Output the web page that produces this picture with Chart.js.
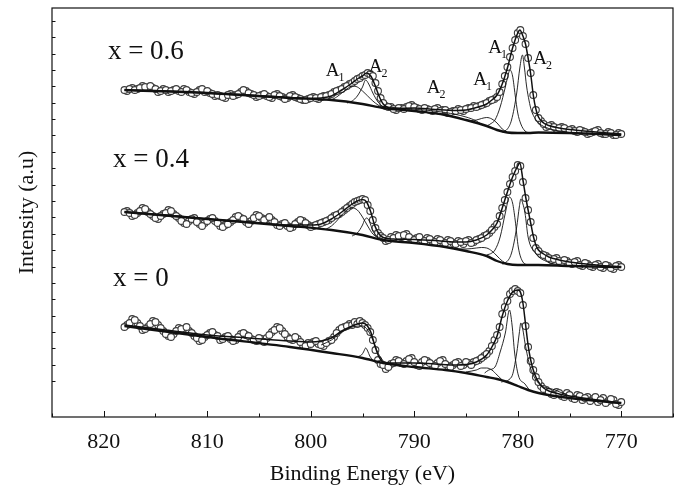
<!DOCTYPE html>
<html>
<head>
<meta charset="utf-8">
<script src="https://cdn.jsdelivr.net/npm/chart.js@4.4.1/dist/chart.umd.min.js"></script>
<style>
  body { margin: 0; background: #fff; }
  canvas { display: block; }
</style>
</head>
<body>
<canvas id="xps" width="680" height="485"></canvas>
<script>
// binding energies of the measured points (eV), shared by the three spectra
const energies = [818, 817.5, 817, 816.5, 816, 815.5, 815, 814.5, 814, 813.5, 813, 812.5, 812, 811.5, 811, 810.5, 810, 809.5, 809, 808.5, 808, 807.5, 807, 806.5, 806, 805.5, 805, 804.5, 804, 803.5, 803, 802.5, 802, 801.5, 801, 800.5, 800, 799.5, 799, 798.5, 798, 797.5, 797, 796.5, 796,
  795.75, 795.5, 795.25, 795, 794.75, 794.5, 794.25, 794, 793.75, 793.5, 793.25,
  793, 792.5, 792, 791.5, 791, 790.5, 790, 789.5, 789, 788.5, 788, 787.5, 787, 786.5, 786, 785.5, 785, 784.5, 784, 783.5, 783, 782.5, 782,
  781.75, 781.5, 781.25, 781, 780.75, 780.5, 780.25, 780, 779.75, 779.5, 779.25, 779, 778.75, 778.5, 778.25,
  778, 777.5, 777, 776.5, 776, 775.5, 775, 774.5, 774, 773.5, 773, 772.5, 772, 771.5, 771, 770.5, 770];
// second set of scan points, in between the first ones
const energies2 = [817.75, 817.25, 816.75, 816.25, 815.75, 815.25, 814.75, 814.25, 813.75, 813.25, 812.75, 812.25, 811.75, 811.25, 810.75, 810.25, 809.75, 809.25, 808.75, 808.25, 807.75, 807.25, 806.75, 806.25, 805.75, 805.25, 804.75, 804.25, 803.75, 803.25, 802.75, 802.25, 801.75, 801.25, 800.75, 800.25, 799.75, 799.25, 798.75, 798.25, 797.75, 797.25, 796.75, 796.25,
  792.75, 792.25, 791.75, 791.25, 790.75, 790.25, 789.75, 789.25, 788.75, 788.25, 787.75, 787.25, 786.75, 786.25, 785.75, 785.25, 784.75, 784.25, 783.75, 783.25, 782.75, 782.25,
  777.75, 777.25, 776.75, 776.25, 775.75, 775.25, 774.75, 774.25, 773.75, 773.25, 772.75, 772.25, 771.75, 771.25, 770.75, 770.25];

// measured intensities (a.u., spectra stacked)
const dataX06 = [327, 328, 327, 329, 330, 331, 328, 326, 327, 326, 328, 325, 327, 324, 325, 328, 326, 323, 322, 320, 322, 321, 323, 327, 324, 322, 321, 323, 320, 322, 321, 318, 321, 320, 318, 317, 319, 319, 320, 321, 323, 326, 328, 331, 334,
  336, 338, 339, 341, 342, 344, 343, 341, 334, 326, 319,
  314, 310, 308, 309, 308, 311, 310, 308, 309, 307, 308, 306, 307, 305, 306, 307, 308, 309, 310, 312, 314, 317, 320,
  325, 333, 341, 350, 360, 369, 377, 384, 387, 381, 373, 359, 344, 322, 307,
  299, 293, 291, 290, 289, 289, 287, 286, 287, 285, 284, 286, 284, 283, 284, 282, 283];
const data2X06 = [326, 329, 328, 331, 329, 329, 325, 328, 325, 327, 326, 328, 325, 323, 327, 325, 324, 321, 321, 319, 323, 322, 325, 326, 323, 320, 322, 321, 319, 323, 320, 319, 322, 319, 317, 318, 320, 318, 321, 322, 325, 327, 330, 333,
  311, 310, 307, 309, 310, 312, 309, 307, 308, 306, 309, 307, 304, 306, 308, 306, 309, 311, 311, 313, 316, 318,
  296, 290, 292, 288, 290, 287, 288, 285, 286, 283, 285, 287, 283, 285, 282, 284];
const dataX04 = [205, 204, 202, 206, 208, 203, 199, 201, 204, 206, 201, 196, 193, 198, 195, 191, 196, 199, 194, 190, 193, 197, 201, 198, 193, 199, 201, 197, 200, 195, 191, 194, 189, 193, 197, 194, 190, 192, 194, 196, 199, 202, 205, 209, 213,
  215, 216, 217, 218, 217, 212, 206, 197, 189, 184, 181,
  179, 177, 179, 181, 182, 180, 177, 180, 176, 178, 175, 177, 174, 176, 173, 175, 176, 174, 177, 179, 182, 187, 193,
  201, 209, 217, 225, 233, 240, 246, 252, 251, 235, 219, 207, 195, 179, 169,
  166, 162, 159, 158, 156, 157, 154, 155, 152, 154, 151, 152, 150, 152, 149, 151, 150];
const data2X04 = [206, 201, 204, 209, 205, 201, 198, 203, 207, 203, 199, 194, 196, 199, 193, 194, 198, 196, 191, 192, 195, 200, 199, 195, 196, 202, 199, 198, 197, 192, 193, 191, 190, 195, 196, 192, 191, 193, 195, 197, 201, 203, 207, 211,
  176, 180, 182, 180, 183, 178, 179, 177, 179, 176, 178, 175, 177, 174, 176, 173, 177, 175, 178, 181, 184, 190,
  163, 161, 157, 159, 155, 156, 153, 156, 151, 153, 150, 153, 149, 151, 148, 152];
const dataX0 = [90, 94, 97, 91, 88, 93, 95, 89, 83, 80, 86, 88, 90, 84, 79, 77, 82, 85, 81, 78, 81, 76, 80, 84, 81, 77, 79, 75, 82, 87, 89, 83, 78, 80, 75, 71, 73, 76, 72, 74, 77, 84, 89, 91, 92,
  95, 93, 96, 94, 92, 89, 85, 77, 67, 57, 53,
  52, 50, 54, 56, 53, 58, 55, 51, 57, 54, 51, 56, 53, 50, 54, 51, 55, 52, 56, 59, 63, 71, 82,
  90, 103, 110, 116, 123, 126, 128, 126, 124, 112, 91, 70, 56, 47, 40,
  35, 28, 25, 22, 24, 20, 22, 18, 21, 19, 16, 20, 17, 14, 18, 13, 15];
const data2X0 = [92, 98, 94, 87, 90, 96, 92, 86, 81, 83, 89, 87, 86, 81, 76, 80, 84, 82, 77, 80, 78, 77, 83, 82, 78, 76, 78, 79, 85, 90, 86, 80, 77, 78, 72, 74, 75, 73, 71, 76, 80, 87, 90, 93,
  48, 53, 57, 54, 56, 59, 52, 55, 56, 52, 54, 57, 51, 52, 55, 52, 54, 55, 57, 61, 66, 77,
  31, 27, 23, 25, 21, 24, 19, 22, 17, 20, 18, 15, 19, 16, 17, 12];

// fitted envelopes
const envE = [818, 814, 810, 806, 802, 800, 799, 798, 797, 796, 795.5, 795, 794.6, 794.2, 793.8, 793.4, 793, 792, 790, 788, 786, 785, 784, 783, 782.5, 782, 781.5, 781, 780.5, 780, 779.8, 779.5, 779.25, 779, 778.75, 778.5, 778.25, 778, 777.5, 777, 776, 775, 773, 770];
const envX06 = [327, 326, 324, 322, 319.5, 318.5, 319, 321, 327, 334, 338, 341, 344, 341, 332, 321, 313, 308.5, 309, 307.5, 306.5, 307, 309.5, 313, 317, 322, 333, 349, 369, 384, 387, 381, 373, 359, 343, 322, 308, 300, 294, 291.5, 289, 287.5, 285.5, 283];
const envX04 = [205, 202, 198, 195, 192, 192, 193, 198, 205, 213, 216, 217.5, 215, 205, 191, 183, 179.5, 178, 177.5, 176.5, 175, 175, 177, 182, 187, 194, 209, 225, 240, 251, 254, 237, 221, 207, 194, 181, 172, 167, 163, 160, 157, 155, 152.5, 150];
const envX0 = [92, 87, 82, 79, 76, 75, 76, 79, 86, 91, 93, 94, 92, 85, 71, 60, 55, 54, 54, 53, 52, 52.5, 55, 62, 70, 81, 101, 116, 125, 127, 126, 114, 93, 72, 57, 47, 40, 35, 29, 26, 23, 21, 18, 14];

// Shirley backgrounds
const baseE = [818, 810, 802, 798, 795, 793, 790, 787, 785, 783, 782, 781, 780, 779, 778, 775, 770];
const baseX06 = [327, 324, 319, 317, 313, 309, 306, 302, 297, 291, 287, 284.5, 284, 284, 284.5, 284, 282];
const baseX04 = [205, 198, 191, 187, 182, 177, 174, 170, 166, 161, 156, 153, 152, 152, 152, 151, 150];
const baseX0 = [91, 80, 70, 64, 59, 54, 50, 47, 44, 40, 38, 35, 31, 27, 24, 19, 14];

// fitted components, x = 0.6
const x06A1hE = [799, 798, 797.5, 797, 796.5, 796, 795.5, 795, 794.5, 794, 793.5, 793];
const x06A1hV = [317, 317.5, 320, 324, 328, 331, 330, 326, 321, 316, 312, 309];
const x06A2hE = [796.5, 796, 795.5, 795, 794.7, 794.4, 794, 793.5, 793];
const x06A2hV = [314, 316, 321, 330, 337, 333, 324, 315, 310];
const x06S2E = [793, 791, 789, 787, 785, 784, 783.5];
const x06S2V = [310.5, 308.5, 307, 304.5, 300, 296, 292.5];
const x06S1E = [785.5, 785, 784.5, 784, 783.5, 783, 782.5, 782, 781.5, 781];
const x06S1V = [298, 297, 296.5, 297, 298.5, 299.5, 298, 294, 288, 284.5];
const x06A1E = [783, 782.5, 782.2, 781.7, 781.2, 781, 780.75, 780.5, 780.25, 780, 779.7, 779.3, 778.8];
const x06A1V = [291, 294, 297, 310, 330, 339, 347, 341, 322, 304, 293, 286, 284];
const x06A2E = [781.5, 781, 780.6, 780.1, 779.8, 779.55, 779.35, 779.15, 778.9, 778.7, 778.3, 778, 777, 776, 775];
const x06A2V = [285, 288, 297, 324, 349, 362, 349, 331, 316, 307, 298, 294, 288.5, 286, 284.5];

// fitted components, x = 0.4
const x04A1hE = [798.5, 798, 797.5, 797, 796.5, 796, 795.5, 795, 794.5, 794, 793.5];
const x04A1hV = [188, 191, 196, 202, 207, 209, 207, 200, 191, 183, 179];
const x04A2hE = [796, 795.5, 795, 794.8, 794.6, 794.4, 794.2, 794, 793.5, 793];
const x04A2hV = [181, 184, 192, 197, 199, 197, 192, 186, 180, 178];
const x04S1E = [786, 785, 784, 783.5, 783, 782.5, 782, 781.5, 781];
const x04S1V = [168, 168, 169, 169.5, 169, 166, 161, 156, 153];
const x04A1E = [783, 782.5, 782.2, 781.7, 781.2, 780.8, 780.5, 780.25, 779.95, 779.5, 779];
const x04A1V = [162, 164, 167, 180, 204, 220, 214, 197, 170, 155, 152];
const x04A2E = [781.5, 781.2, 780.6, 780.1, 779.85, 779.7, 779.5, 779.3, 779, 778.3, 777.1, 776];
const x04A2V = [153, 154, 164, 190, 210, 218, 213, 204, 180, 164, 155, 152];

// fitted components, x = 0
const x0A1hE = [799, 798, 797, 796, 795, 794.5, 794, 793.5, 793];
const x0A1hV = [72, 77, 85, 90, 91, 87, 77, 64, 56];
const x0A2hE = [795.6, 795.1, 794.9, 794.7, 794.5, 794.3, 794];
const x0A2hV = [60, 62, 65, 69, 66, 61, 57];
const x0S1E = [785, 784, 783.5, 783, 782.5, 782, 781.5];
const x0S1V = [45, 47, 49, 49, 47, 42, 37];
const x0A1E = [783.2, 782.8, 782.2, 781.7, 781.2, 780.8, 780.55, 780.3, 779.95, 779.3, 778.8];
const x0A1V = [44, 47, 50, 65, 84, 107, 92, 64, 42, 33, 26];
const x0A2E = [781.6, 780.6, 780.1, 779.85, 779.7, 779.5, 779.3, 778.8, 778, 776.4, 775];
const x0A2V = [35, 40, 64, 84, 94, 87, 74, 50, 34, 27, 21];

// axis ticks
const xTicks = [820, 810, 800, 790, 780, 770];
const xMinorTicks = [825, 815, 805, 795, 785, 775, 765];
const yTicks = [36, 52, 69, 85, 101, 118, 134, 150, 167, 183, 200, 216, 232, 249, 265, 282, 298, 314, 331, 347, 363, 380, 396];

const serif = "'Liberation Serif', 'DejaVu Serif', serif";

// text labels placed in data coordinates
const sampleLabels = [
  { text: "x = 0.6", x: 819.6, y: 358 },
  { text: "x = 0.4", x: 819.1, y: 250 },
  { text: "x = 0", x: 819.1, y: 131 }
];
const peakLabels = [
  { text: "A", sub: "1", x: 798.55, y: 341 },
  { text: "A", sub: "2", x: 794.4, y: 345.5 },
  { text: "A", sub: "2", x: 788.8, y: 324 },
  { text: "A", sub: "1", x: 784.3, y: 332 },
  { text: "A", sub: "1", x: 782.85, y: 364 },
  { text: "A", sub: "2", x: 778.5, y: 353 }
];

function pts(xs, ys) {
  return xs.map((x, i) => ({ x: x, y: ys[i] }));
}

function circles(xs, ys) {
  return {
    data: pts(xs, ys),
    showLine: false,
    pointRadius: 3.4,
    pointBorderWidth: 1.1,
    pointBorderColor: "#3c3c3c",
    pointBackgroundColor: "#ffffff",
    order: 10
  };
}

function curve(xs, ys, width, order) {
  return {
    data: pts(xs, ys),
    showLine: true,
    borderColor: "#111",
    borderWidth: width,
    pointRadius: 0,
    tension: 0.4,
    cubicInterpolationMode: "monotone",
    order: order
  };
}

const datasets = [
  circles(energies, dataX06), circles(energies2, data2X06),
  circles(energies, dataX04), circles(energies2, data2X04),
  circles(energies, dataX0), circles(energies2, data2X0),
  curve(baseE, baseX06, 2.4, 2), curve(baseE, baseX04, 2.4, 2), curve(baseE, baseX0, 2.4, 2),
  curve(x06A1hE, x06A1hV, 0.9, 3), curve(x06A2hE, x06A2hV, 0.9, 3), curve(x06S2E, x06S2V, 0.9, 3),
  curve(x06S1E, x06S1V, 0.9, 3), curve(x06A1E, x06A1V, 0.9, 3), curve(x06A2E, x06A2V, 0.9, 3),
  curve(x04A1hE, x04A1hV, 0.9, 3), curve(x04A2hE, x04A2hV, 0.9, 3), curve(x04S1E, x04S1V, 0.9, 3),
  curve(x04A1E, x04A1V, 0.9, 3), curve(x04A2E, x04A2V, 0.9, 3),
  curve(x0A1hE, x0A1hV, 0.9, 3), curve(x0A2hE, x0A2hV, 0.9, 3), curve(x0S1E, x0S1V, 0.9, 3),
  curve(x0A1E, x0A1V, 0.9, 3), curve(x0A2E, x0A2V, 0.9, 3),
  curve(envE, envX06, 1.5, 1), curve(envE, envX04, 1.5, 1), curve(envE, envX0, 1.5, 1)
];

// frame, inward tick marks and text labels
const decorations = {
  id: "decorations",
  afterDraw(chart) {
    const { ctx, chartArea: a, scales } = chart;
    const sx = scales.x, sy = scales.y;
    ctx.save();
    ctx.strokeStyle = "#111";
    ctx.lineWidth = 1.2;
    ctx.strokeRect(a.left, a.top, a.right - a.left, a.bottom - a.top);
    ctx.lineWidth = 1;
    ctx.beginPath();
    xTicks.forEach(v => {
      const px = Math.round(sx.getPixelForValue(v)) + 0.5;
      ctx.moveTo(px, a.bottom); ctx.lineTo(px, a.bottom - 6);
    });
    xMinorTicks.forEach(v => {
      const px = Math.round(sx.getPixelForValue(v)) + 0.5;
      ctx.moveTo(px, a.bottom); ctx.lineTo(px, a.bottom - 3.5);
    });
    yTicks.forEach(v => {
      const py = Math.round(sy.getPixelForValue(v)) + 0.5;
      ctx.moveTo(a.left, py); ctx.lineTo(a.left + 3.5, py);
    });
    ctx.stroke();

    ctx.fillStyle = "#111";
    ctx.textBaseline = "alphabetic";
    ctx.textAlign = "left";
    ctx.font = "27px " + serif;
    sampleLabels.forEach(l => {
      ctx.fillText(l.text, sx.getPixelForValue(l.x), sy.getPixelForValue(l.y));
    });
    peakLabels.forEach(l => {
      const px = sx.getPixelForValue(l.x), py = sy.getPixelForValue(l.y);
      ctx.font = "19px " + serif;
      ctx.fillText(l.text, px, py);
      const w = ctx.measureText(l.text).width;
      ctx.font = "12px " + serif;
      ctx.fillText(l.sub, px + w - 1, py + 5);
    });
    ctx.restore();
  }
};

new Chart(document.getElementById("xps"), {
  type: "scatter",
  data: { datasets: datasets },
  options: {
    responsive: false,
    animation: false,
    layout: { padding: { left: 0, right: 7, top: 8, bottom: 0 } },
    plugins: { legend: { display: false }, tooltip: { enabled: false } },
    scales: {
      x: {
        type: "linear",
        reverse: true,
        min: 765,
        max: 825,
        afterBuildTicks: s => { s.ticks = xTicks.map(v => ({ value: v })); },
        afterFit: s => { s.height = 68; },
        ticks: { color: "#111", padding: 12, font: { family: serif, size: 22 }, maxRotation: 0 },
        grid: { display: false, drawTicks: false },
        border: { display: false },
        title: { display: true, text: "Binding Energy (eV)", color: "#111", font: { family: serif, size: 22 }, padding: { top: -2, bottom: -2 } }
      },
      y: {
        min: 0,
        max: 409,
        afterFit: s => { s.width = 52; },
        ticks: { display: false },
        grid: { display: false, drawTicks: false },
        border: { display: false },
        title: { display: true, text: "Intensity (a.u)", color: "#111", font: { family: serif, size: 22 }, padding: { top: 14, bottom: 0 } }
      }
    }
  },
  plugins: [decorations]
});
</script>
</body>
</html>
